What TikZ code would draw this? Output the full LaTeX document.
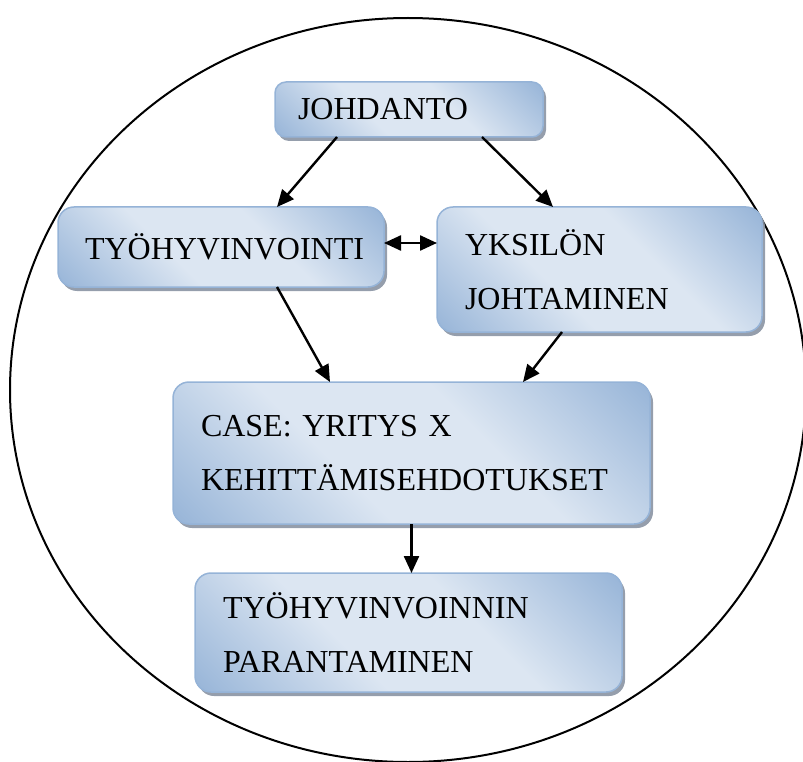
\documentclass[tikz,border=0pt]{standalone}
\usepackage{fontspec}
\setmainfont{Liberation Serif}
\usetikzlibrary{arrows.meta,shadows}
\definecolor{boxlight}{HTML}{DCE6F2}
\definecolor{boxdark}{HTML}{95B3D7}
\definecolor{boxline}{HTML}{95B3D7}
\definecolor{boxshadow}{HTML}{8A94A3}
\pgfdeclarehorizontalshading{boxshade}{100bp}{color(0bp)=(boxdark); color(14bp)=(boxdark);
  color(40bp)=(boxlight); color(60bp)=(boxlight); color(86bp)=(boxdark); color(100bp)=(boxdark)}
\begin{document}
\begin{tikzpicture}[x=1pt,y=-1pt,
  box/.style={rectangle, rounded corners=16pt, draw=boxline, line width=1.5pt,
    shading=boxshade, shading angle=45,
    drop shadow={shadow xshift=3pt, shadow yshift=-4pt, fill=boxshadow, opacity=0.9},
    font=\fontsize{32}{54}\selectfont, align=left, inner xsep=28pt, inner ysep=0pt, outer sep=0pt},
  arr/.style={-{Triangle[length=17pt,width=15pt]}, line width=2.4pt}]
  \useasboundingbox (0,0) rectangle (803,762);
  % outer ring
  \draw[line width=2pt] (408,390) ellipse [x radius=398pt, y radius=372pt];
  % boxes
  \node[box, rounded corners=11pt, inner xsep=23pt, text width=222pt, minimum height=55pt] (johdanto) at (409,109.5) {JOHDANTO};
  \node[box, inner xsep=27pt, text width=272pt, minimum height=80pt] (tyo) at (221,247) {TYÖHYVINVOINTI};
  \node[box, text width=269pt, minimum height=125pt] (yksilo) at (599.5,269.5) {YKSILÖN\\JOHTAMINEN};
  \node[box, text width=421pt, minimum height=142pt] (case) at (411.5,453) {CASE: YRITYS X\\KEHITTÄMISEHDOTUKSET};
  \node[box, text width=371pt, minimum height=119pt] (paran) at (408.5,632.5) {TYÖHYVINVOINNIN\\PARANTAMINEN};
  % arrows
  \draw[arr] ([xshift=-72pt]johdanto.south) -- ([xshift=56pt]tyo.north);
  \draw[arr] ([xshift=73pt]johdanto.south) -- ([xshift=-46.5pt]yksilo.north);
  \draw[arr, {Triangle[length=17pt,width=15pt]}-{Triangle[length=17pt,width=15pt]}] ([yshift=4pt]tyo.east) -- ([yshift=4pt]tyo.east -| yksilo.west);
  \draw[arr] ([xshift=56pt]tyo.south) -- ([xshift=-81.5pt]case.north);
  \draw[arr] ([xshift=-37.5pt]yksilo.south) -- ([xshift=111.5pt]case.north);
  \draw[arr] (case.south) -- (case.south |- paran.north);
\end{tikzpicture}
\end{document}
